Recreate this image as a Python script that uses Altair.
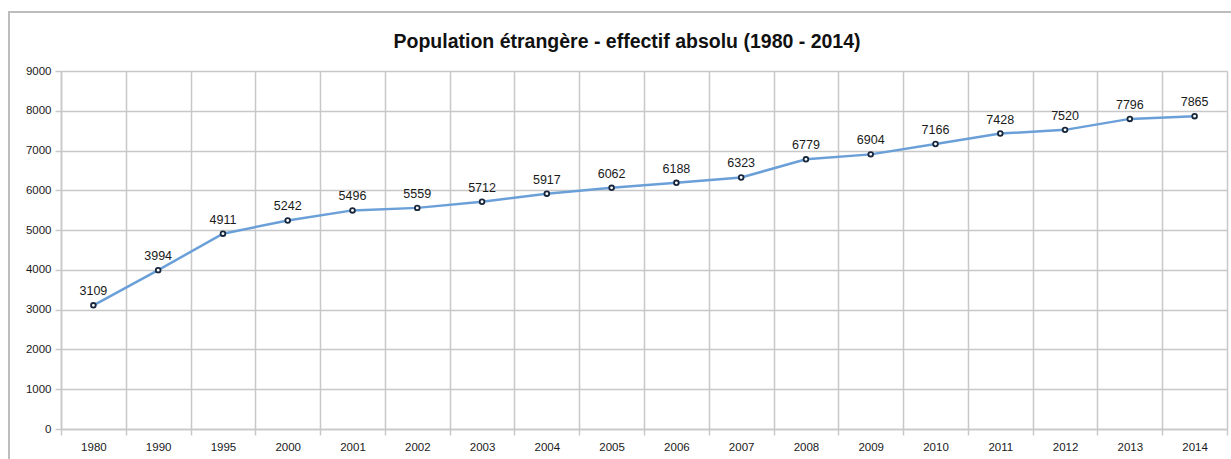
import altair as alt
import pandas as pd

years = ["1980", "1990", "1995", "2000", "2001", "2002", "2003", "2004", "2005",
         "2006", "2007", "2008", "2009", "2010", "2011", "2012", "2013", "2014"]
population = [3109, 3994, 4911, 5242, 5496, 5559, 5712, 5917, 6062,
              6188, 6323, 6779, 6904, 7166, 7428, 7520, 7796, 7865]
y_ticks = list(range(0, 9001, 1000))

df = pd.DataFrame({"annee": years, "effectif": population})

W, H = 1166, 358
FONT = "Liberation Sans"
GRID = "#c8c8c8"

x_enc = alt.X(
    "annee:N", sort=years, title=None,
    scale=alt.Scale(paddingInner=0, paddingOuter=0),
    axis=alt.Axis(labelAngle=0, tickBand="extent", grid=True, gridColor=GRID,
                  gridWidth=1.5, domainColor=GRID, domainWidth=1.5, tickColor=GRID,
                  tickWidth=1.5, tickSize=6, labelFont=FONT, labelFontSize=11.5,
                  labelColor="#1a1a1a", labelPadding=6),
)
y_enc = alt.Y(
    "effectif:Q", title=None,
    scale=alt.Scale(domain=[0, 9000], nice=False),
    axis=alt.Axis(values=y_ticks, format="d", grid=True, gridColor=GRID, gridWidth=1.5,
                  domainColor=GRID, domainWidth=1.5, tickColor=GRID, tickWidth=1.5,
                  tickSize=6, labelFont=FONT, labelFontSize=11.5, labelColor="#1a1a1a",
                  labelPadding=4),
)

base = alt.Chart(df)

line = base.mark_line(color="#6a9fd8", strokeWidth=2.5).encode(x=x_enc, y=y_enc)
points = base.mark_point(shape="circle", filled=True, fill="white", stroke="#17263a",
                         strokeWidth=1.8, size=22, opacity=1).encode(x=x_enc, y=y_enc)
labels = base.mark_text(dy=-14, font=FONT, fontSize=12.5, color="#1a1a1a").encode(
    x=x_enc, y=y_enc, text="effectif:Q")

frame = alt.Chart(pd.DataFrame({"k": [0]})).mark_rect(
    fill=None, stroke="#bdbdbd", strokeWidth=2).encode(
    x=alt.value(-52), x2=alt.value(W + 20), y=alt.value(-59), y2=alt.value(H + 40))

title = alt.Chart(pd.DataFrame({"t": ["Population étrangère - effectif absolu (1980 - 2014)"]})).mark_text(
    font=FONT, fontSize=19.5, fontWeight="bold", color="#111111", baseline="middle",
    align="center").encode(x=alt.value(566), y=alt.value(-29), text="t:N")

chart = alt.layer(frame, line, points, labels, title).properties(
    width=W, height=H,
    autosize=alt.AutoSizeParams(type="none"),
    padding={"left": 61, "top": 71, "right": 4, "bottom": 30},
).configure_view(stroke=GRID, strokeWidth=1.5).configure(background="white")

chart.save("out.html", embed_options={"renderer": "svg", "actions": False})
